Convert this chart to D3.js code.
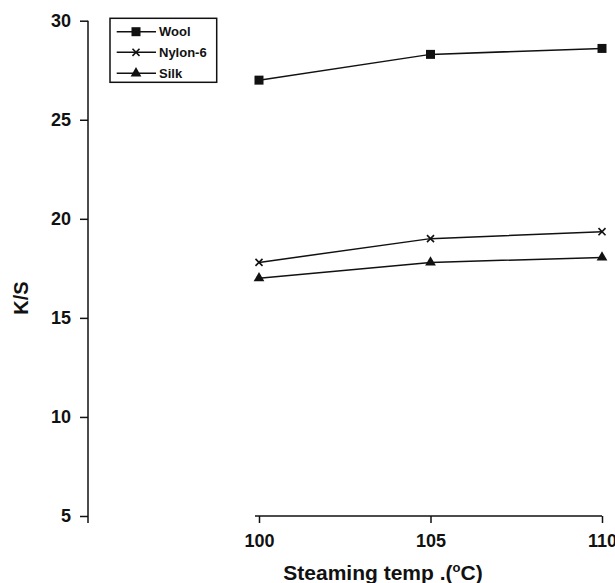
<!DOCTYPE html>
<html>
<head>
<meta charset="utf-8">
<script src="https://cdn.jsdelivr.net/npm/d3@7"></script>
<style>
  body { margin: 0; background: #fff; }
  svg { display: block; font-family: "Liberation Sans", Arial, sans-serif; font-weight: bold; }
</style>
</head>
<body>
<div id="chart"></div>
<script>
// values
const temps = [100, 105, 110];
const wool = [27.0, 28.3, 28.6];
const nylon = [17.8, 19.0, 19.35];
const silk = [17.0, 17.8, 18.05];
const yTicks = [5, 10, 15, 20, 25, 30];
const seriesNames = ['Wool', 'Nylon-6', 'Silk'];

const width = 615;
const height = 583;

const svg = d3.select('#chart').append('svg')
  .attr('width', width)
  .attr('height', height);

const x = d3.scaleLinear().domain([100, 110]).range([259, 602]);
const y = d3.scaleLinear().domain([5, 30]).range([516, 20.7]);
const yAxisX = 88;

// y axis
const yAxis = svg.append('g')
  .attr('transform', `translate(${yAxisX},0)`)
  .call(d3.axisLeft(y).tickValues(yTicks).tickSize(8).tickSizeOuter(0).tickPadding(9));
yAxis.select('.domain').attr('d', `M0,${y(30)}V${y(5) + 7}`);

// x axis, starts a little left of the first tick
const xAxis = svg.append('g')
  .attr('transform', `translate(0,${y(5)})`)
  .call(d3.axisBottom(x).tickValues(temps).tickSize(7).tickSizeOuter(0).tickPadding(11));
xAxis.select('.domain').attr('d', `M${x(100) - 4},0H${x(110)}`);

svg.selectAll('.domain, .tick line')
  .attr('stroke', '#111')
  .attr('stroke-width', 1.5);
yAxis.selectAll('.tick text').attr('font-size', 18).attr('font-family', null).attr('fill', '#111');
xAxis.selectAll('.tick text').attr('font-size', 18).attr('font-family', null).attr('fill', '#111');

// axis titles
const xTitle = svg.append('text')
  .attr('x', 383)
  .attr('y', 580)
  .attr('text-anchor', 'middle')
  .attr('font-size', 21)
  .attr('fill', '#111');
xTitle.append('tspan').text('Steaming temp .(');
xTitle.append('tspan').attr('font-size', 13).attr('dy', -8).text('o');
xTitle.append('tspan').attr('dy', 8).text('C)');

svg.append('text')
  .attr('transform', `translate(28,298) rotate(-90)`)
  .attr('text-anchor', 'middle')
  .attr('font-size', 20)
  .attr('fill', '#111')
  .text('K/S');

// series
const symbols = [
  d3.symbol().type(d3.symbolSquare).size(81),
  d3.symbol().type(d3.symbolTimes).size(34),
  d3.symbol().type(d3.symbolTriangle).size(50),
];
const series = [wool, nylon, silk];

const line = d3.line()
  .x((d, i) => x(temps[i]))
  .y(d => y(d));

function drawMarker(g, i) {
  const p = g.append('path').attr('d', symbols[i]());
  if (i === 1) {
    p.attr('fill', 'none').attr('stroke', '#111').attr('stroke-width', 1.6);
  } else {
    p.attr('fill', '#111');
  }
  return p;
}

series.forEach((vals, i) => {
  svg.append('path')
    .datum(vals)
    .attr('fill', 'none')
    .attr('stroke', '#111')
    .attr('stroke-width', 1.5)
    .attr('d', line);
  vals.forEach((v, j) => {
    const g = svg.append('g').attr('transform', `translate(${x(temps[j])},${y(v)})`);
    drawMarker(g, i);
  });
});

// legend
const legend = svg.append('g');
legend.append('rect')
  .attr('x', 110)
  .attr('y', 18.3)
  .attr('width', 106.7)
  .attr('height', 64)
  .attr('fill', '#fff')
  .attr('stroke', '#111')
  .attr('stroke-width', 1.5);

const rowY = [31.7, 52.3, 73.3];
seriesNames.forEach((name, i) => {
  legend.append('line')
    .attr('x1', 116.7)
    .attr('x2', 156)
    .attr('y1', rowY[i])
    .attr('y2', rowY[i])
    .attr('stroke', '#111')
    .attr('stroke-width', 1.5);
  const g = legend.append('g').attr('transform', `translate(136,${rowY[i]})`);
  drawMarker(g, i);
  legend.append('text')
    .attr('x', 159)
    .attr('y', rowY[i])
    .attr('dy', '0.36em')
    .attr('font-size', 13)
    .attr('fill', '#111')
    .text(name);
});
</script>
</body>
</html>
